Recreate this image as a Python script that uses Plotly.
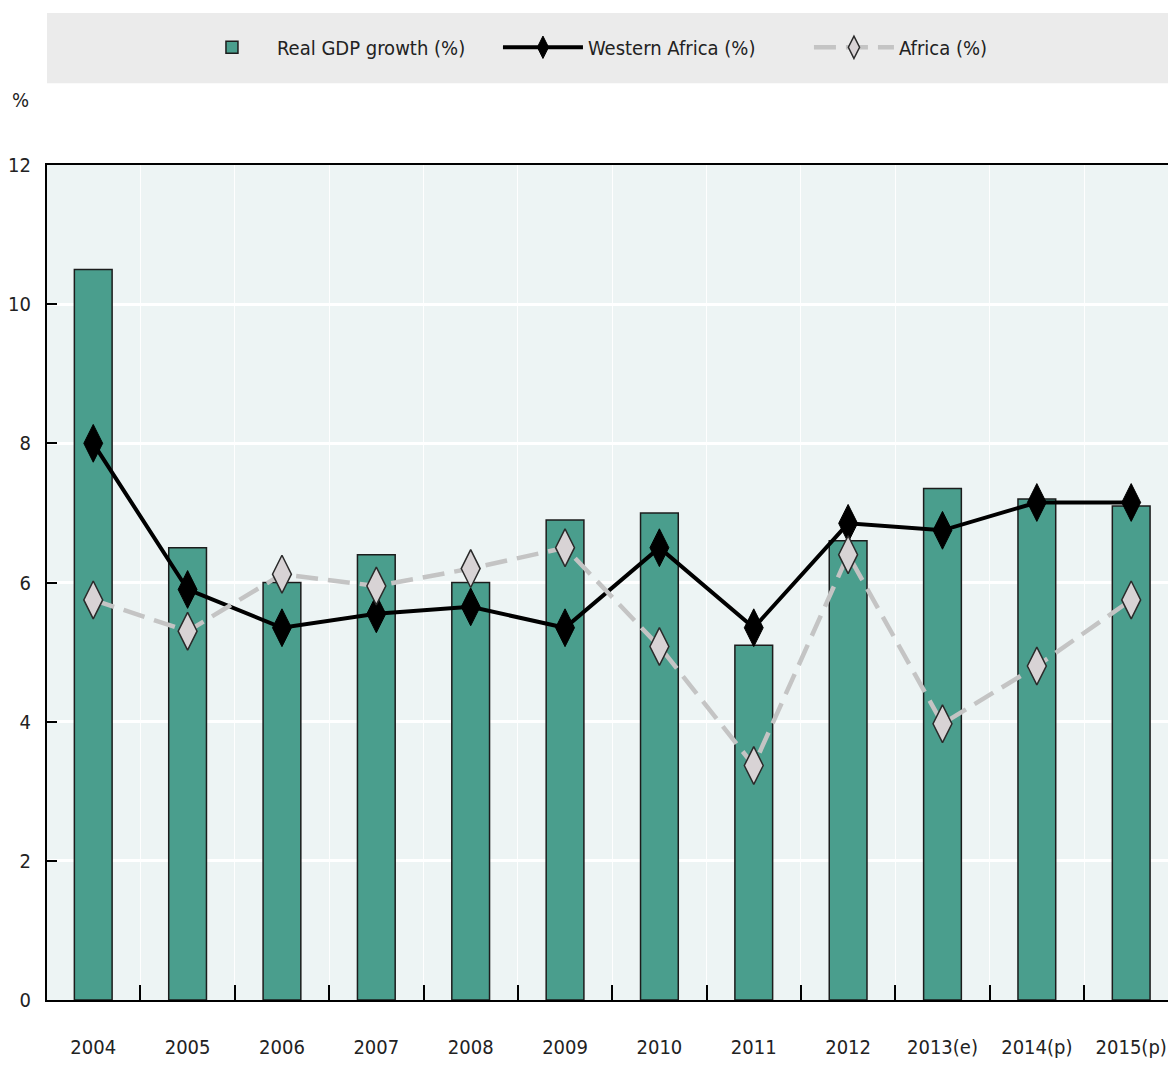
import plotly.graph_objects as go

years = ["2004", "2005", "2006", "2007", "2008", "2009", "2010", "2011", "2012",
         "2013(e)", "2014(p)", "2015(p)"]
real_gdp = [10.5, 6.5, 6.0, 6.4, 6.0, 6.9, 7.0, 5.1, 6.6, 7.35, 7.2, 7.1]
western_africa = [8.0, 5.9, 5.35, 5.55, 5.65, 5.35, 6.5, 5.35, 6.85, 6.75, 7.15, 7.15]
africa = [5.75, 5.3, 6.12, 5.95, 6.2, 6.5, 5.08, 3.37, 6.4, 3.97, 4.8, 5.75]
y_ticks = [0, 2, 4, 6, 8, 10, 12]

FONT = "DejaVu Sans Condensed, Liberation Sans Narrow, Arial Narrow, sans-serif"
FS = 20

fig = go.Figure()
fig.add_trace(go.Bar(
    x=years, y=real_gdp, name="Real GDP growth (%)", width=0.4,
    marker=dict(color="#4a9e8d", line=dict(color="#1c1c1c", width=1.5)),
))
fig.add_trace(go.Scatter(
    x=years, y=western_africa, name="Western Africa (%)", mode="lines+markers",
    line=dict(color="#000000", width=4),
    marker=dict(symbol="diamond-tall", size=27, color="#000000",
                line=dict(color="#000000", width=1)),
))
fig.add_trace(go.Scatter(
    x=years, y=africa, name="Africa (%)", mode="lines+markers",
    line=dict(color="#c4c4c4", width=4.5, dash="22px,10px"),
    marker=dict(symbol="diamond-tall", size=27, color="#d8d3d5",
                line=dict(color="#2a2a2a", width=1.5)),
))

fig.update_layout(
    width=1168, height=1070,
    margin=dict(l=47, r=0, t=165, b=70, autoexpand=False),
    paper_bgcolor="#ffffff",
    plot_bgcolor="#edf4f4",
    font=dict(family=FONT, size=FS, color="#222222"),
    showlegend=True,
    legend=dict(orientation="h", x=0.541, xanchor="center", y=1.141, yanchor="middle",
                bgcolor="rgba(0,0,0,0)", font=dict(size=FS), itemwidth=80,
                entrywidth=216, traceorder="normal"),
    shapes=[dict(type="rect", xref="paper", yref="paper", x0=0, x1=1,
                 y0=1.098, y1=1.182, fillcolor="#ebebeb", line=dict(width=0),
                 layer="below")],
    annotations=[dict(text="%", xref="paper", yref="paper", x=-0.024, y=1.078,
                      xanchor="center", yanchor="middle", showarrow=False,
                      font=dict(size=FS, family=FONT, color="#222222"))],
)
fig.update_xaxes(
    type="category", range=[-0.49, 11.39], automargin=False, tickangle=0,
    showline=True, linecolor="#000000", linewidth=2, mirror=True,
    ticks="inside", tickson="boundaries", ticklen=15, tickcolor="#000000", tickwidth=1.5,
    showgrid=True, gridcolor="rgba(255,255,255,0.9)", gridwidth=1,
    ticklabelstandoff=28,
    tickfont=dict(size=FS, family=FONT, color="#222222"),
)
fig.update_yaxes(
    range=[0, 12], tickvals=y_ticks, automargin=False,
    showline=True, linecolor="#000000", linewidth=2,
    ticks="inside", ticklen=10, tickcolor="#000000", tickwidth=1.5,
    showgrid=True, gridcolor="#ffffff", gridwidth=2.5,
    zeroline=False, ticklabelstandoff=10,
    tickfont=dict(size=FS, family=FONT, color="#222222"),
)

fig.write_html("out.html", config={"displayModeBar": False},
               post_script="document.body.style.margin='0';")
